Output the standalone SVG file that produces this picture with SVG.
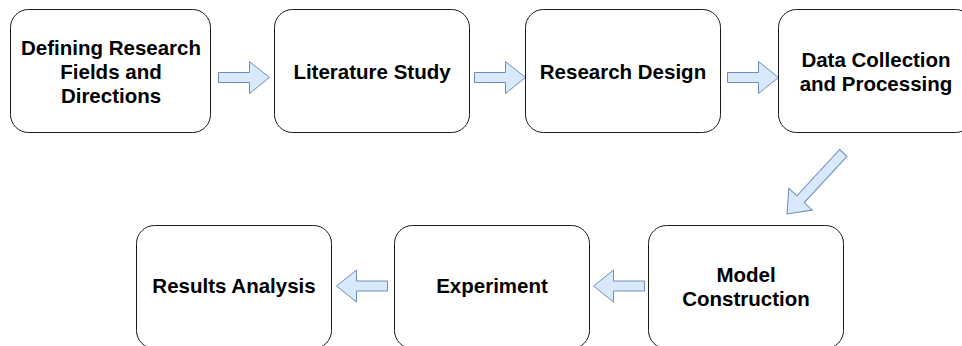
<svg xmlns="http://www.w3.org/2000/svg" width="962" height="346" viewBox="0 0 962 346">
<style>
.box{fill:#ffffff;stroke:#1a1a1a;stroke-width:1}
.lbl{font-family:"Liberation Sans",Arial,Helvetica,sans-serif;font-weight:bold;font-size:20.5px;fill:#000000;text-anchor:middle}
.arr{fill:#dae8fc;stroke:#6c8ebf;stroke-width:1}
</style>
<defs>
<path id="a51" d="M0,-5 H31 V-16 L51,0 L31,16 V5 H0 Z"/>
<path id="a83" d="M0,-5 H63 V-16 L83,0 L63,16 V5 H0 Z"/>
</defs>
<rect width="962" height="346" fill="#ffffff"/>
<g id="connectors">
<use href="#a51" class="arr" transform="translate(218.5,77.5)"/>
<use href="#a51" class="arr" transform="translate(474.5,77.5)"/>
<use href="#a51" class="arr" transform="translate(727.5,77.5)"/>
<use href="#a83" class="arr" transform="translate(843.3,152.9) rotate(132.7)"/>
<use href="#a51" class="arr" transform="translate(644.5,286) rotate(180)"/>
<use href="#a51" class="arr" transform="translate(387.5,286) rotate(180)"/>
</g>
<g id="n1">
<rect class="box" x="10.5" y="9.5" width="200" height="123" rx="18" ry="18"/>
<text class="lbl" x="111" y="54.5">Defining Research</text>
<text class="lbl" x="111" y="78.5">Fields and</text>
<text class="lbl" x="111" y="102.5">Directions</text>
</g>
<g id="n2">
<rect class="box" x="274.5" y="9.5" width="195" height="123" rx="18" ry="18"/>
<text class="lbl" x="372" y="78.5">Literature Study</text>
</g>
<g id="n3">
<rect class="box" x="525.5" y="9.5" width="195" height="123" rx="18" ry="18"/>
<text class="lbl" x="623" y="78.5">Research Design</text>
</g>
<g id="n4">
<rect class="box" x="778.5" y="9.5" width="195" height="123" rx="18" ry="18"/>
<text class="lbl" x="876" y="66.5">Data Collection</text>
<text class="lbl" x="876" y="90.5">and Processing</text>
</g>
<g id="n5">
<rect class="box" x="648.5" y="225.5" width="195" height="123" rx="18" ry="18"/>
<text class="lbl" x="746" y="281.5">Model</text>
<text class="lbl" x="746" y="305.5">Construction</text>
</g>
<g id="n6">
<rect class="box" x="394.5" y="225.5" width="195" height="123" rx="18" ry="18"/>
<text class="lbl" x="492" y="292.5">Experiment</text>
</g>
<g id="n7">
<rect class="box" x="136.5" y="225.5" width="195" height="123" rx="18" ry="18"/>
<text class="lbl" x="234" y="292.5">Results Analysis</text>
</g>
</svg>
